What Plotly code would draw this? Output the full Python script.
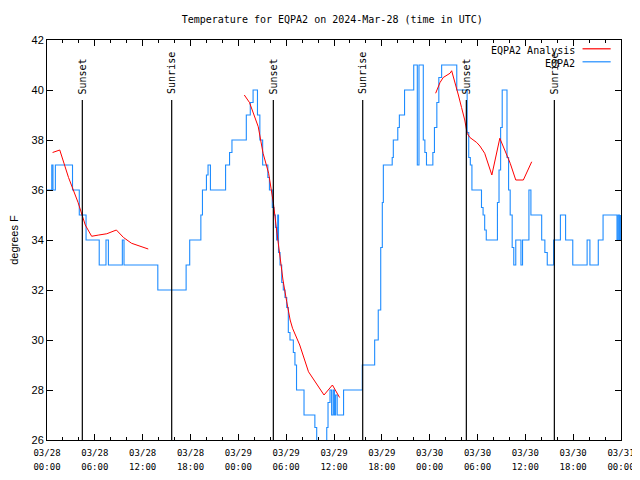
import pandas as pd
import plotly.graph_objects as go

start = pd.Timestamp("2024-03-28 00:00")

# EQPA2 observations (hours since start, deg F)
obs_hours = [0, 0.6, 0.75, 1.05, 3.2, 4.05, 4.9, 6.55, 7.4, 7.7, 9.45, 9.66, 13.9, 17.45, 17.9,
             19.3, 19.5, 20.0, 20.2, 20.5, 22.4, 22.9, 23.2, 25.0, 25.5, 25.85, 26.4, 26.7, 27.05,
             27.7, 27.9, 28.26, 28.47, 28.66, 28.8, 28.94, 29.04, 29.23, 29.44, 29.64, 29.85, 30.07,
             30.27, 30.48, 30.9, 31.1, 31.3, 32.24, 33.6, 33.83, 35.09, 35.25, 35.5, 35.7, 35.9,
             36.05, 36.2, 36.4, 37.2, 39.55, 41.1, 41.55, 41.86, 42.06, 42.19, 43.3, 43.44, 44.0,
             44.2, 44.85, 46.0, 46.45, 46.66, 47.2, 47.4, 47.6, 48.4, 48.6, 48.9, 49.15, 49.5,
             51.4, 52.7, 52.9, 53.1, 53.3, 54.5, 54.7, 54.9, 55.1, 56.5, 56.7, 56.9, 57.1, 57.7,
             57.9, 58.1, 58.35, 58.55, 58.8, 59.45, 59.65, 60.45, 60.7, 62.05, 62.45, 62.75, 63.55,
             64.4, 65.05, 65.95, 67.75, 68.1, 69.15, 69.75, 71.5, 71.65, 71.8, 71.95]
obs_temps = [36, 37, 36, 37, 36, 35, 34, 33, 34, 33, 34, 33, 32, 33, 34,
             35, 36, 36.6, 37, 36, 37, 37.5, 38, 39, 39.5, 40, 39, 38, 37,
             36.5, 36, 35.3, 35, 34.5, 34, 35, 33.5, 33, 32.3, 32, 31.7, 31.3,
             30.3, 30, 29.5, 29, 28, 27, 26.5, 25, 26.5, 27.5, 28, 27, 28,
             27, 27.8, 27, 28, 29, 30, 31.2, 33.7, 35.5, 37, 37.3, 38, 38.5,
             39, 40, 41, 37, 41, 38, 37.5, 37, 37.5, 38.5, 39.5, 40.5, 41,
             40, 38.3, 37.3, 37, 36, 35.3, 35, 34.4, 34, 35.5, 36.8, 38.5, 40, 37.3,
             36, 35, 33.7, 33, 34, 33, 34, 36, 35, 34, 33.5, 33, 34,
             35, 34, 33, 34, 33, 34, 35, 34, 35, 34, 35]

# EQPA2 Analysis (three segments separated by gaps)
ana_hours = [0.7, 1.6, 2.7, 3.9, 4.8, 5.6, 6.5, 7.5, 8.7, 9.6, 10.6, 11.6, 12.7, None,
             24.75, 25.4, 26.5, 27.1, 27.8, 28.4, 28.8, 29.2, 29.6, 30.07, 30.5, 30.8, 31.7,
             32.8, 33.8, 34.75, 35.8, 36.7, None,
             48.75, 49.3, 49.7, 50.55, 50.76, 51.2, 51.6, 52.0, 52.4, 52.7, 53.05, 53.9, 54.3,
             54.9, 55.8, 56.8, 58.1, 58.8, 59.75, 60.8]
ana_temps = [37.5, 37.6, 36.5, 35.5, 34.6, 34.15, 34.2, 34.25, 34.4, 34.1, 33.87, 33.75, 33.64, None,
             39.8, 39.5, 38.53, 37.47, 36.67, 35.47, 34.4, 33.33, 32.4, 31.53, 30.8, 30.47, 29.8,
             28.73, 28.27, 27.8, 28.2, 27.7, None,
             39.87, 40.3, 40.5, 40.67, 40.77, 40.3, 39.8, 39.3, 38.8, 38.27, 38.1, 37.9, 37.76,
             37.47, 36.6, 38.07, 37.07, 36.4, 36.4, 37.13]

# Sun events (hours since start)
event_hours = [4.43, 15.64, 28.39, 39.6, 52.6, 63.64]
event_names = ["Sunset", "Sunrise", "Sunset", "Sunrise", "Sunset", "Sunrise"]

tick_hours = list(range(0, 73, 6))
tick_dates = ["03/28", "03/28", "03/28", "03/28", "03/29", "03/29", "03/29", "03/29",
              "03/30", "03/30", "03/30", "03/30", "03/31"]
tick_times = ["00:00", "06:00", "12:00", "18:00"] * 3 + ["00:00"]


def to_time(h):
    return None if h is None else start + pd.Timedelta(hours=h)


obs_x = [to_time(h) for h in obs_hours]
ana_x = [to_time(h) for h in ana_hours]
tick_x = [to_time(h) for h in tick_hours]
x_range = [start, start + pd.Timedelta(hours=72)]

MONO = "DejaVu Sans Mono"
BLUE = "#1e8cff"
fig = go.Figure()
fig.add_trace(go.Scatter(x=obs_x, y=obs_temps, mode="lines", line=dict(color=BLUE, width=1.1, shape="hv"),
                         name="EQPA2", showlegend=False))
fig.add_trace(go.Scatter(x=ana_x, y=ana_temps, mode="lines", line=dict(color="#ff0000", width=1),
                         name="EQPA2 Analysis", showlegend=False, connectgaps=False))
# invisible trace carrying the second row of time labels
fig.add_trace(go.Scatter(x=x_range, y=[None, None], xaxis="x2", yaxis="y", mode="lines",
                         showlegend=False, hoverinfo="skip"))

for h, name in zip(event_hours, event_names):
    t = to_time(h)
    fig.add_shape(type="line", xref="x", yref="y", x0=t, x1=t, y0=26, y1=39.6,
                  line=dict(color="black", width=1.2))
    fig.add_annotation(x=t, y=39.75, xref="x", yref="y", text=name, textangle=-90, showarrow=False,
                       xanchor="center", yanchor="bottom", font=dict(family=MONO, size=10, color="black"))

# legend (gnuplot style: text then sample on the right)
legend_items = [("EQPA2 Analysis", "#ff0000", 0.975), ("EQPA2", BLUE, 0.9425)]
for label, col, yp in legend_items:
    fig.add_annotation(x=0.924, y=yp, xref="paper", yref="paper", text=label, showarrow=False,
                       xanchor="right", yanchor="middle", font=dict(family=MONO, size=10, color="black"))
    fig.add_shape(type="line", xref="paper", yref="paper", x0=0.933, x1=0.982, y0=yp + 0.003, y1=yp + 0.003,
                  line=dict(color=col, width=1.2))

fig.update_layout(
    width=632, height=464,
    margin=dict(l=39, r=19, t=32, b=32, autoexpand=False),
    paper_bgcolor="white", plot_bgcolor="white",
    title=dict(text="Temperature for EQPA2 on 2024-Mar-28 (time in UTC)", x=0.513, xanchor="center",
               xref="container", yref="container", y=0.976, yanchor="middle",
               font=dict(family=MONO, size=10, color="black")),
    showlegend=False,
    xaxis=dict(
        range=x_range, automargin=False,
        tickvals=tick_x, ticktext=tick_dates, ticklabelstandoff=4,
        ticks="inside", ticklen=6, tickcolor="black", mirror="ticks",
        showline=True, linecolor="black", linewidth=1, showgrid=False, zeroline=False,
        tickfont=dict(family=MONO, size=9, color="black"),
        minor=dict(ticks="inside", ticklen=3, tickcolor="black", dtick=2 * 3600 * 1000, tick0=start,
                   showgrid=False),
    ),
    xaxis2=dict(
        range=x_range, automargin=False, overlaying="x", anchor="y", side="bottom",
        tickvals=tick_x, ticktext=tick_times, ticklabelstandoff=20, ticks="",
        showline=False, showgrid=False, zeroline=False,
        tickfont=dict(family=MONO, size=9, color="black"),
    ),
    yaxis=dict(
        range=[26, 42], dtick=2, tick0=26, automargin=False,
        ticks="inside", ticklen=6, tickcolor="black", mirror="ticks",
        showline=True, linecolor="black", linewidth=1, showgrid=False, zeroline=False,
        tickfont=dict(family="Liberation Sans", size=11, color="black"),
        title=dict(text="degrees F", font=dict(family="Liberation Sans", size=11, color="black"), standoff=16),
    ),
)

fig.write_html("out.html")
